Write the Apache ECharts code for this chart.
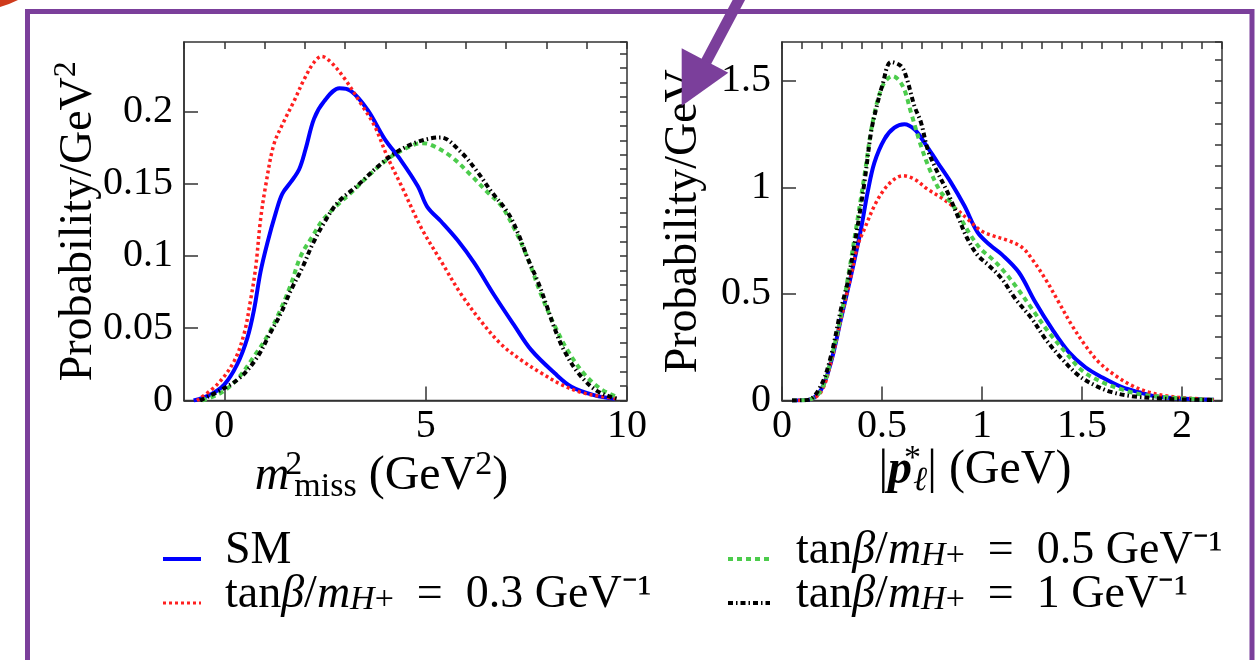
<!DOCTYPE html>
<html><head><meta charset="utf-8">
<script src="https://cdn.jsdelivr.net/npm/echarts@6/dist/echarts.min.js"></script>
<style>html,body{margin:0;padding:0;background:#fff}#c{width:1256px;height:660px}</style>
</head><body><div id="c"></div>
<script>
// ---------- data ----------
const seriesNames = ['SM', 'tanβ/mH+ = 0.3 GeV−1', 'tanβ/mH+ = 0.5 GeV−1', 'tanβ/mH+ = 1 GeV−1'];

// left panel: m^2_miss (GeV^2) vs Probability/GeV^2
const leftSM = [[-0.76,0],[-0.35,0.004],[0,0.011],[0.32,0.025],[0.57,0.043],[0.74,0.063],[0.9,0.089],[1.07,0.109],[1.28,0.13],[1.44,0.143],[1.65,0.151],[1.86,0.16],[2.02,0.174],[2.23,0.195],[2.48,0.207],[2.86,0.216],[3.15,0.214],[3.56,0.201],[3.98,0.181],[4.39,0.166],[4.81,0.148],[5.04,0.134],[5.38,0.124],[5.79,0.111],[6.21,0.095],[6.7,0.073],[7.2,0.052],[7.62,0.035],[8.2,0.019],[8.62,0.0095],[9.2,0.0035],[9.7,0.0012]];
const left03 = [[-0.68,0],[-0.18,0.011],[0.24,0.027],[0.49,0.046],[0.65,0.069],[0.78,0.092],[0.9,0.125],[1.03,0.149],[1.23,0.177],[1.48,0.193],[1.73,0.207],[1.98,0.222],[2.23,0.234],[2.42,0.238],[2.65,0.234],[2.98,0.223],[3.4,0.205],[3.73,0.19],[4.06,0.168],[4.39,0.149],[4.9,0.119],[5.37,0.097],[5.87,0.074],[6.37,0.055],[6.87,0.039],[7.37,0.028],[7.87,0.019],[8.37,0.011],[8.87,0.0055],[9.37,0.0028],[9.78,0.0012]];
const left05 = [[-0.55,0],[-0.1,0.005],[0.3,0.014],[0.75,0.031],[1.1,0.046],[1.4,0.063],[1.65,0.08],[1.9,0.1],[2.2,0.114],[2.45,0.125],[2.8,0.135],[3.2,0.145],[3.6,0.156],[4.06,0.167],[4.48,0.174],[4.88,0.178],[5.12,0.177],[5.62,0.169],[6.12,0.156],[6.54,0.144],[6.87,0.135],[7.2,0.119],[7.54,0.098],[7.87,0.073],[8.2,0.052],[8.54,0.034],[8.95,0.018],[9.37,0.0076],[9.7,0.003]];
const left1 = [[-0.6,0],[-0.1,0.007],[0.4,0.016],[0.82,0.03],[1.11,0.045],[1.4,0.06],[1.65,0.076],[1.94,0.092],[2.19,0.108],[2.48,0.123],[2.82,0.137],[3.32,0.149],[3.78,0.161],[4.23,0.171],[4.81,0.179],[5.37,0.182],[5.87,0.172],[6.29,0.158],[6.62,0.145],[7.04,0.13],[7.29,0.116],[7.54,0.098],[7.79,0.082],[8.0,0.066],[8.2,0.05],[8.45,0.034],[8.79,0.019],[9.2,0.0076],[9.54,0.003],[9.8,0.001]];

// right panel: |p*_l| (GeV) vs Probability/GeV
const rightSM = [[0.05,0],[0.13,0.003],[0.195,0.05],[0.245,0.18],[0.295,0.383],[0.345,0.586],[0.395,0.805],[0.428,0.977],[0.462,1.117],[0.512,1.227],[0.562,1.281],[0.612,1.297],[0.662,1.273],[0.712,1.211],[0.778,1.117],[0.845,1.023],[0.912,0.914],[0.978,0.789],[1.04,0.73],[1.1,0.685],[1.184,0.602],[1.267,0.461],[1.35,0.336],[1.434,0.227],[1.517,0.156],[1.6,0.109],[1.7,0.0625],[1.784,0.039],[1.867,0.02],[1.967,0.011],[2.1,0.006],[2.16,0.004]];
const right03 = [[0.05,0],[0.13,0.003],[0.195,0.04],[0.245,0.18],[0.295,0.383],[0.345,0.586],[0.378,0.727],[0.412,0.805],[0.462,0.914],[0.512,0.992],[0.562,1.039],[0.603,1.055],[0.662,1.039],[0.728,0.992],[0.795,0.953],[0.862,0.906],[0.928,0.852],[0.995,0.797],[1.05,0.775],[1.134,0.75],[1.2,0.719],[1.25,0.664],[1.317,0.57],[1.384,0.461],[1.45,0.352],[1.517,0.258],[1.584,0.18],[1.667,0.117],[1.75,0.07],[1.834,0.039],[1.934,0.02],[2.034,0.011],[2.16,0.004]];
const right05 = [[0.05,0],[0.13,0.003],[0.195,0.047],[0.245,0.195],[0.295,0.398],[0.337,0.617],[0.378,0.852],[0.412,1.055],[0.453,1.305],[0.503,1.477],[0.553,1.523],[0.603,1.477],[0.645,1.352],[0.695,1.195],[0.745,1.07],[0.795,0.977],[0.845,0.93],[0.895,0.852],[0.945,0.773],[0.995,0.71],[1.05,0.665],[1.1,0.617],[1.167,0.539],[1.25,0.43],[1.334,0.32],[1.417,0.227],[1.5,0.141],[1.6,0.086],[1.7,0.052],[1.8,0.027],[1.917,0.016],[2.034,0.008],[2.16,0.004]];
const right1 = [[0.05,0],[0.13,0.003],[0.195,0.07],[0.245,0.21],[0.295,0.43],[0.328,0.555],[0.37,0.773],[0.412,1.023],[0.445,1.258],[0.47,1.367],[0.503,1.484],[0.545,1.589],[0.595,1.57],[0.62,1.523],[0.662,1.383],[0.695,1.305],[0.728,1.18],[0.77,1.086],[0.828,0.977],[0.878,0.867],[0.928,0.758],[0.98,0.68],[1.033,0.635],[1.1,0.57],[1.167,0.477],[1.25,0.383],[1.317,0.289],[1.4,0.195],[1.484,0.117],[1.567,0.07],[1.65,0.039],[1.75,0.02],[1.867,0.011],[2.0,0.005],[2.16,0.002]];

// tick labels
const leftXTicks = [0, 5, 10];
const leftYTicks = [0, 0.05, 0.1, 0.15, 0.2];
const rightXTicks = [0, 0.5, 1, 1.5, 2];
const rightYTicks = [0, 0.5, 1, 1.5];

// ---------- styling ----------
const F = 'Liberation Serif';
function richSet(fs, lh, subRatio, supLh) {
  const ss = Math.round(fs * (subRatio || 0.7));
  const sl = supLh != null ? supLh : lh * 0.5;
  return {
    r:   {fontFamily: F, fontSize: fs, lineHeight: lh, color: '#000'},
    i:   {fontFamily: F, fontSize: fs, lineHeight: lh, fontStyle: 'italic', color: '#000'},
    bi:  {fontFamily: F, fontSize: fs, lineHeight: lh, fontStyle: 'italic', fontWeight: 'bold', color: '#000'},
    sup: {fontFamily: F, fontSize: ss, lineHeight: sl, verticalAlign: 'top', color: '#000'},
    supz:{fontFamily: F, fontSize: ss, lineHeight: sl, verticalAlign: 'top', color: '#000', width: 1},
    sub: {fontFamily: F, fontSize: ss, lineHeight: lh * 0.36, verticalAlign: 'bottom', color: '#000'},
    subi:{fontFamily: F, fontSize: ss, lineHeight: lh * 0.36, verticalAlign: 'bottom', fontStyle: 'italic', color: '#000'}
  };
}
const legendLabels = [
  '{r|SM}',
  '{r|tan}{i|β}{r|/}{i|m}{subi|H}{sub|+}{r|  =  0.3 GeV⁻¹}',
  '{r|tan}{i|β}{r|/}{i|m}{subi|H}{sub|+}{r|  =  0.5 GeV⁻¹}',
  '{r|tan}{i|β}{r|/}{i|m}{subi|H}{sub|+}{r|  =  1 GeV⁻¹}'
];
const colors = ['#0000ff', '#ff1f1f', '#4ccc4c', '#000000'];
const lineStyles = [
  {width: 4, type: 'solid'},
  {width: 3.5, type: [3, 3]},
  {width: 4, type: [5, 4]},
  {width: 4, type: [5, 3, 1.5, 3]}
];

const tickFont = {fontFamily: F, fontSize: 40, color: '#000'};
const frameColor = '#333';

function mainX(grid, min, max, ticks, name, gap, shift) {
  return {
    type: 'value', gridIndex: grid, min: min, max: max,
    axisLine: {show: true, onZero: false, lineStyle: {color: frameColor, width: 1.5}},
    axisTick: {show: true, inside: true, length: 14, customValues: ticks, lineStyle: {color: frameColor, width: 1.5}},
    axisLabel: Object.assign({show: true, margin: 6, customValues: ticks}, tickFont),
    splitLine: {show: false},
    name: name, nameLocation: 'middle', nameGap: gap, nameMoveOverlap: false,
    nameTextStyle: {fontFamily: F, fontSize: 48, padding: [0, shift, 0, 0], rich: richSet(48, 56)}
  };
}
function minorX(grid, min, max, step) {
  return {
    type: 'value', gridIndex: grid, min: min, max: max, interval: step,
    axisLine: {show: false, onZero: false}, axisLabel: {show: false}, splitLine: {show: false},
    axisTick: {show: true, inside: true, length: 7, lineStyle: {color: frameColor, width: 1.5}}
  };
}
function mainY(grid, min, max, ticks, name, gap) {
  return {
    type: 'value', gridIndex: grid, min: min, max: max,
    axisLine: {show: true, onZero: false, lineStyle: {color: frameColor, width: 1.5}},
    axisTick: {show: true, inside: true, length: 14, customValues: ticks, lineStyle: {color: frameColor, width: 1.5}},
    axisLabel: Object.assign({show: true, margin: 11, customValues: ticks}, tickFont),
    splitLine: {show: false},
    name: name, nameLocation: 'middle', nameGap: gap, nameRotate: 90, nameMoveOverlap: false,
    nameTextStyle: {fontFamily: F, fontSize: 46, rich: richSet(46, 56)}
  };
}
function minorY(grid, min, max, step) {
  return {
    type: 'value', gridIndex: grid, min: min, max: max, interval: step,
    axisLine: {show: false, onZero: false}, axisLabel: {show: false}, splitLine: {show: false},
    axisTick: {show: true, inside: true, length: 7, lineStyle: {color: frameColor, width: 1.5}}
  };
}

const leftData = [leftSM, left03, left05, left1];
const rightData = [rightSM, right03, right05, right1];
const series = [];
[leftData, rightData].forEach((set, g) => {
  set.forEach((d, k) => {
    series.push({
      type: 'line', name: seriesNames[k], data: d,
      xAxisIndex: g * 2, yAxisIndex: g * 2,
      symbol: 'none', showSymbol: false, smooth: 0.35,
      color: colors[k],
      lineStyle: Object.assign({color: colors[k], cap: 'butt'}, lineStyles[k]),
      z: 2 + k
    });
  });
});

function legendFmt(name) { return legendLabels[seriesNames.indexOf(name)]; }
function legendCfg(idx, left, iw, padL) {
  return {
    data: idx.map(k => ({name: seriesNames[k], lineStyle: {width: k === 1 ? 3 : 4}})),
    orient: 'vertical', left: left, top: 528, padding: 0,
    itemWidth: iw, itemHeight: 14, itemGap: -2, selectedMode: false,
    formatter: legendFmt,
    itemStyle: {opacity: 0},
    textStyle: {fontFamily: F, fontSize: 46, color: '#000', padding: [0, 0, 16, padL], rich: richSet(46, 44, 0.74, 12)}
  };
}

const PURPLE = '#7b3f9b';
const option = {
  animation: false,
  backgroundColor: '#ffffff',
  grid: [
    {left: 184, top: 42, width: 443, height: 358.5, show: true, borderColor: frameColor, borderWidth: 1.5, backgroundColor: 'transparent'},
    {left: 782, top: 42, width: 440, height: 358.5, show: true, borderColor: frameColor, borderWidth: 1.5, backgroundColor: 'transparent'}
  ],
  xAxis: [
    mainX(0, -1, 10, leftXTicks, '{i|m}{r|\u200A}{supz|2}{sub|miss}{r| (GeV}{sup|2}{r|)}', 48, 48),
    minorX(0, -1, 10, 1),
    mainX(1, 0, 2.2, rightXTicks, '{r||}{bi|p}{supz|*}{subi|ℓ}{r|| (GeV)}', 42, 54),
    minorX(1, 0, 2.2, 0.1)
  ],
  yAxis: [
    mainY(0, 0, 0.248, leftYTicks, '{r|Probability/GeV}{sup|2}', 77),
    minorY(0, 0, 0.248, 0.01),
    mainY(1, 0, 1.683, rightYTicks, '{r|Probability/GeV}', 70),
    minorY(1, 0, 1.683, 0.1)
  ],
  legend: [
    legendCfg([0, 1], 161, 38, 19),
    legendCfg([2, 3], 726, 42, 21)
  ],
  series: series,
  graphic: [
    {type: 'rect', z: 100, shape: {x: 27.5, y: 11.5, width: 1224.5, height: 720}, style: {fill: 'none', stroke: PURPLE, lineWidth: 5}},
    {type: 'polygon', z: 100, shape: {points: [[0,0],[18,0],[9,4],[0,7]]}, style: {fill: '#cf3b1c'}},
    {type: 'line', z: 100, shape: {x1: 742, y1: -6, x2: 706, y2: 62}, style: {stroke: PURPLE, lineWidth: 11}},
    {type: 'polygon', z: 100, shape: {points: [[681.7,48.3],[728.3,72.7],[681.7,106]]}, style: {fill: PURPLE}}
  ]
};
const chart = echarts.init(document.getElementById('c'));
chart.setOption(option);
</script>
</body></html>
